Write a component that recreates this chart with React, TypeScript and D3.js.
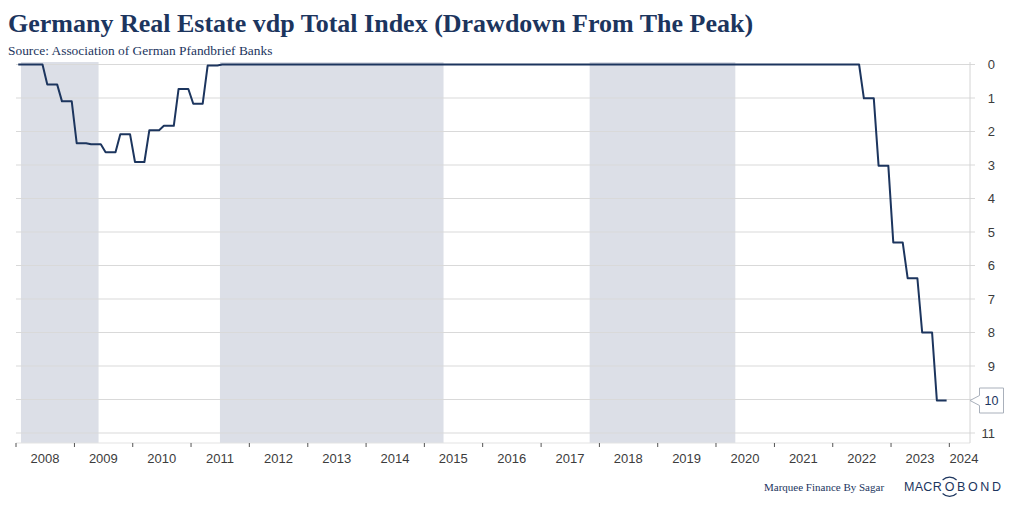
import React from "react";
import * as d3 from "d3";

// Quarterly drawdown from peak (%), Q1 2008 .. Q4 2023
const startYear = 2008;
const drawdown: number[] = [
  0, 0, 0.6, 1.1, // 2008
  2.35, 2.38, 2.62, 2.08, // 2009
  2.91, 1.96, 1.83, 0.73, // 2010
  1.17, 0.03, 0, 0, // 2011
  0, 0, 0, 0, // 2012
  0, 0, 0, 0, // 2013
  0, 0, 0, 0, // 2014
  0, 0, 0, 0, // 2015
  0, 0, 0, 0, // 2016
  0, 0, 0, 0, // 2017
  0, 0, 0, 0, // 2018
  0, 0, 0, 0, // 2019
  0, 0, 0, 0, // 2020
  0, 0, 0, 0, // 2021
  0, 0, 1.01, 3.02, // 2022
  5.31, 6.38, 8.0, 10.03, // 2023
];

const shadedPeriods: [string, string][] = [
  ["2008-02-01", "2009-06-01"],
  ["2011-07-01", "2015-05-01"],
  ["2017-11-01", "2020-05-01"],
];

const yTicks = [0, 1, 2, 3, 4, 5, 6, 7, 8, 9, 10, 11];
const xYears = [2008, 2009, 2010, 2011, 2012, 2013, 2014, 2015, 2016, 2017, 2018, 2019, 2020, 2021, 2022, 2023, 2024];

const title = "Germany Real Estate vdp Total Index (Drawdown From The Peak)";
const subtitle = "Source: Association of German Pfandbrief Banks";
const credit = "Marquee Finance By Sagar";

const W = 1012;
const H = 506;
const plotLeft = 16;
const plotRight = 970;
const plotTop = 62;
const plotBottom = 443;
const navy = "#1c355e";
const sans = "'Liberation Sans', Arial, sans-serif";
const serif = "'Liberation Serif', 'Times New Roman', serif";

export default function App() {
  const x = d3
    .scaleTime()
    .domain([new Date(2008, 0, 1), new Date(2024, 0, 1)])
    .range([plotLeft, 949.33]);
  const y = d3.scaleLinear().domain([0, 11]).range([64.5, 433]);

  // each quarterly value is held for the three months of its quarter
  const pts: [Date, number][] = [];
  drawdown.forEach((v, i) => {
    const yr = startYear + Math.floor(i / 4);
    const m0 = (i % 4) * 3;
    pts.push([new Date(yr, m0, 15), v]);
    pts.push([new Date(yr, m0 + 2, 15), v]);
  });
  const line = d3
    .line<[Date, number]>()
    .x((d) => x(d[0]))
    .y((d) => y(d[1]));

  const last = drawdown[drawdown.length - 1];
  const lastLabel = Math.round(last);
  const ly = y(last);

  return (
    <svg
      width={W}
      height={H}
      style={{ position: "absolute", left: 0, top: 0, display: "block", background: "#fff" }}
    >
      <text x={8} y={32} fontFamily={serif} fontWeight="bold" fontSize={26} fill={navy}>
        {title}
      </text>
      <text x={8} y={55} fontFamily={serif} fontSize={13.4} fill={navy}>
        {subtitle}
      </text>

      {shadedPeriods.map(([a, b], i) => (
        <rect
          key={i}
          x={x(new Date(a))}
          y={plotTop}
          width={x(new Date(b)) - x(new Date(a))}
          height={plotBottom - plotTop}
          fill="#dcdfe7"
        />
      ))}

      {yTicks.map((t) => (
        <g key={t}>
          <line x1={plotLeft} x2={plotRight + 5} y1={y(t)} y2={y(t)} stroke="#d9d9d9" strokeWidth={1} />
          {t !== lastLabel && (
            <text
              x={995}
              y={y(t) + 4.5}
              textAnchor="end"
              fontFamily={sans}
              fontSize={13}
              fill="#3c3c3c"
            >
              {t}
            </text>
          )}
        </g>
      ))}

      <line x1={plotLeft} x2={plotRight} y1={plotBottom} y2={plotBottom} stroke="#e3e3e3" />
      <line x1={plotRight} x2={plotRight} y1={plotTop} y2={plotBottom} stroke="#d4d4d4" />

      {xYears.map((yr) => {
        const tx = x(new Date(yr, 0, 1));
        const mid = x(new Date(yr, 6, 1));
        return (
          <g key={yr}>
            <line x1={tx} x2={tx} y1={plotBottom} y2={plotBottom + 4} stroke="#555" />
            <text
              x={Math.min(mid, 964)}
              y={463}
              textAnchor="middle"
              fontFamily={sans}
              fontSize={13}
              fill="#3c3c3c"
            >
              {yr}
            </text>
          </g>
        );
      })}

      <path d={line(pts) ?? ""} fill="none" stroke={navy} strokeWidth={2} strokeLinejoin="round" />

      {/* last value marker */}
      <path
        d={`M${plotRight},${ly} L979.5,${ly - 5} L979.5,${ly - 12.5} L1003.5,${ly - 12.5} L1003.5,${ly + 12.5} L979.5,${ly + 12.5} L979.5,${ly + 5} Z`}
        fill="#fff"
        stroke="#a9b0bb"
        strokeWidth={1}
      />
      <text x={991.5} y={ly + 4.5} textAnchor="middle" fontFamily={sans} fontSize={12.5} fill={navy}>
        {lastLabel}
      </text>

      <text x={764} y={491} fontFamily={serif} fontSize={11} fill={navy}>
        {credit}
      </text>
      <g fontFamily={sans} fontSize={12.5} fill={navy}>
        <text x={904} y={491} letterSpacing={0.3}>MACR</text>
        <text x={949.6} y={491} textAnchor="middle">O</text>
        <text x={957} y={491} letterSpacing={2.6}>BOND</text>
      </g>
      <path d="M942.6,480 A10,10 0 0 1 956.6,480" fill="none" stroke={navy} strokeWidth={1.1} />
      <path d="M942.6,493.5 A10,10 0 0 0 956.6,493.5" fill="none" stroke={navy} strokeWidth={1.1} />
    </svg>
  );
}
